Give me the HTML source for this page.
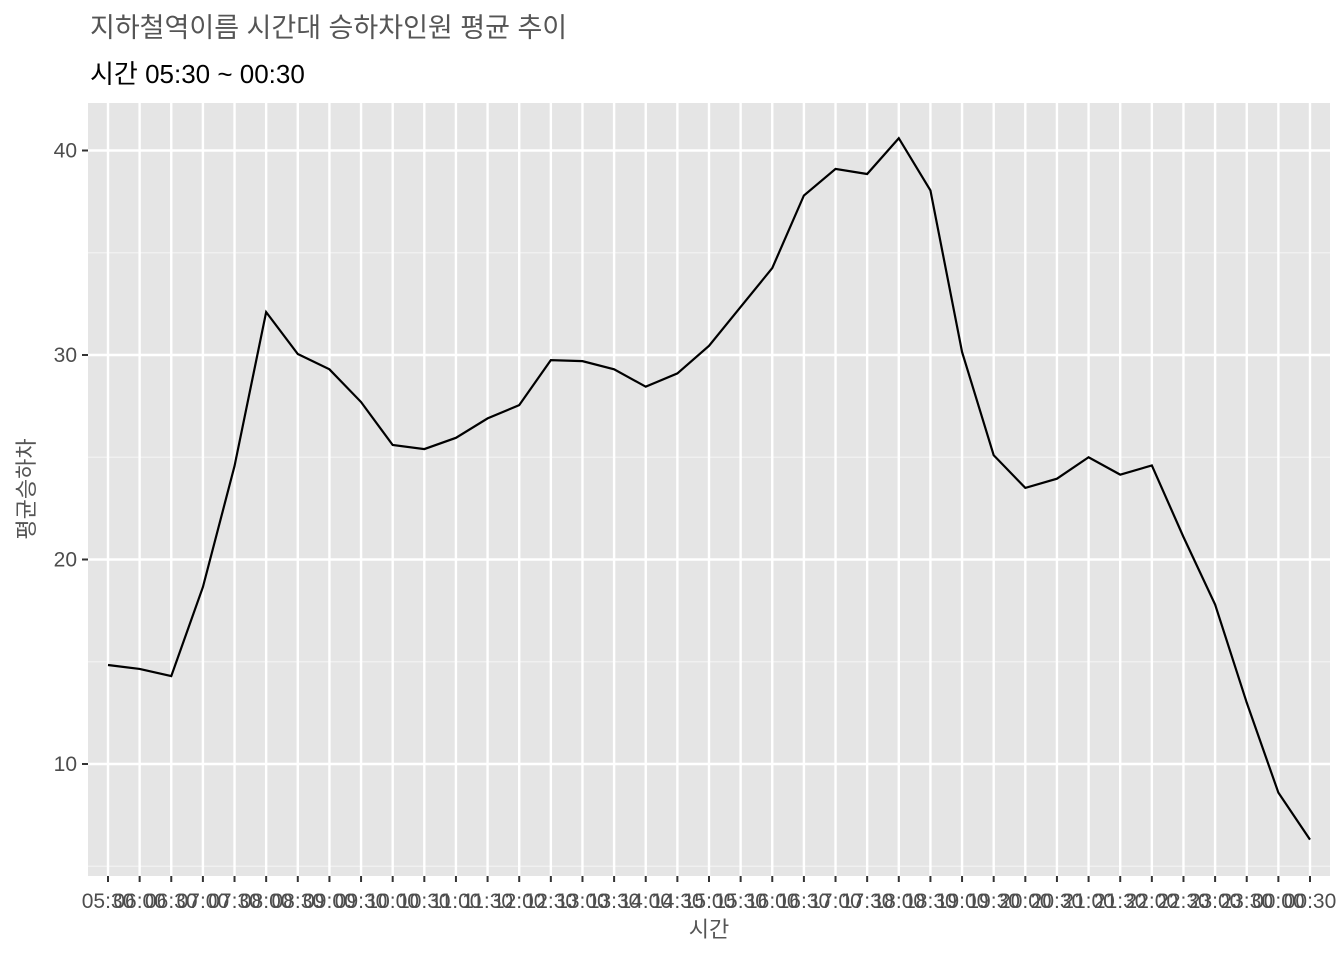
<!DOCTYPE html>
<html><head><meta charset="utf-8">
<style>
body{margin:0;background:#fff;}
svg text{font-family:"Liberation Sans","Noto Sans CJK KR",sans-serif;}
</style></head>
<body>
<svg id="chart" width="1344" height="960" xmlns="http://www.w3.org/2000/svg">
<text x="90" y="37" font-size="27" fill="#555">지하철역이름 시간대 승하차인원 평균 추이</text>
<text x="90" y="83" font-size="26" fill="#000">시간 05:30 ~ 00:30</text>
<g id="panel"></g>
<text x="709" y="937" font-size="22" fill="#555" text-anchor="middle">시간</text>
<text transform="translate(34,489) rotate(-90)" font-size="22" fill="#555" text-anchor="middle">평균승하차</text>
</svg>
<script>
const categories=["05:30","06:00","06:30","07:00","07:30","08:00","08:30","09:00","09:30","10:00","10:30","11:00","11:30","12:00","12:30","13:00","13:30","14:00","14:30","15:00","15:30","16:00","16:30","17:00","17:30","18:00","18:30","19:00","19:30","20:00","20:30","21:00","21:30","22:00","22:30","23:00","23:30","00:00","00:30"];
const values=[14.84,14.65,14.3,18.65,24.57,32.1,30.05,29.3,27.7,25.6,25.4,25.95,26.9,27.55,29.75,29.7,29.3,28.45,29.1,30.45,32.35,34.25,37.8,39.1,38.85,40.6,38.05,30.15,25.1,23.5,23.95,25,24.15,24.6,21.1,17.8,13,8.6,6.3];
const yTicks=[10,20,30,40];
const yMinor=[5,15,25,35];
const NS="http://www.w3.org/2000/svg";
const L=88,R=1330,T=103,B=876;
const x0=108,x1=1310;
const xs=i=>x0+(x1-x0)*i/(categories.length-1);
const ys=v=>764-(v-10)*20.45;
const g=document.getElementById('panel');
function mk(t,a){const e=document.createElementNS(NS,t);for(const k in a)e.setAttribute(k,a[k]);g.appendChild(e);return e;}
let bg=mk('rect',{x:L,y:T,width:R-L,height:B-T,fill:'#e5e5e5'});


yMinor.forEach(v=>{let e=mk('line',{x1:L,x2:R,y1:ys(v),y2:ys(v),stroke:'#f2f2f2','stroke-width':1.2});

});
yTicks.forEach(v=>{let e=mk('line',{x1:L,x2:R,y1:ys(v),y2:ys(v),stroke:'#fff','stroke-width':2.4});


let t=mk('line',{x1:82,x2:88,y1:ys(v),y2:ys(v),stroke:'#333','stroke-width':2});


let tx=mk('text',{x:77,y:ys(v)+7,'font-size':21,fill:'#4d4d4d','text-anchor':'end'});


tx.textContent=v;});
categories.forEach((c,i)=>{const x=xs(i);
let e=mk('line',{x1:x,x2:x,y1:T,y2:B,stroke:'#fff','stroke-width':2.4});


let t=mk('line',{x1:x,x2:x,y1:B,y2:B+6,stroke:'#333','stroke-width':2});


let tx=mk('text',{x:x,y:908,'font-size':21,fill:'#4d4d4d','text-anchor':'middle'});


tx.textContent=c;});
let p=mk('polyline',{points:values.map((v,i)=>xs(i)+','+ys(v)).join(' '),fill:'none',stroke:'#000','stroke-width':2.2});


</script>
</body></html>
